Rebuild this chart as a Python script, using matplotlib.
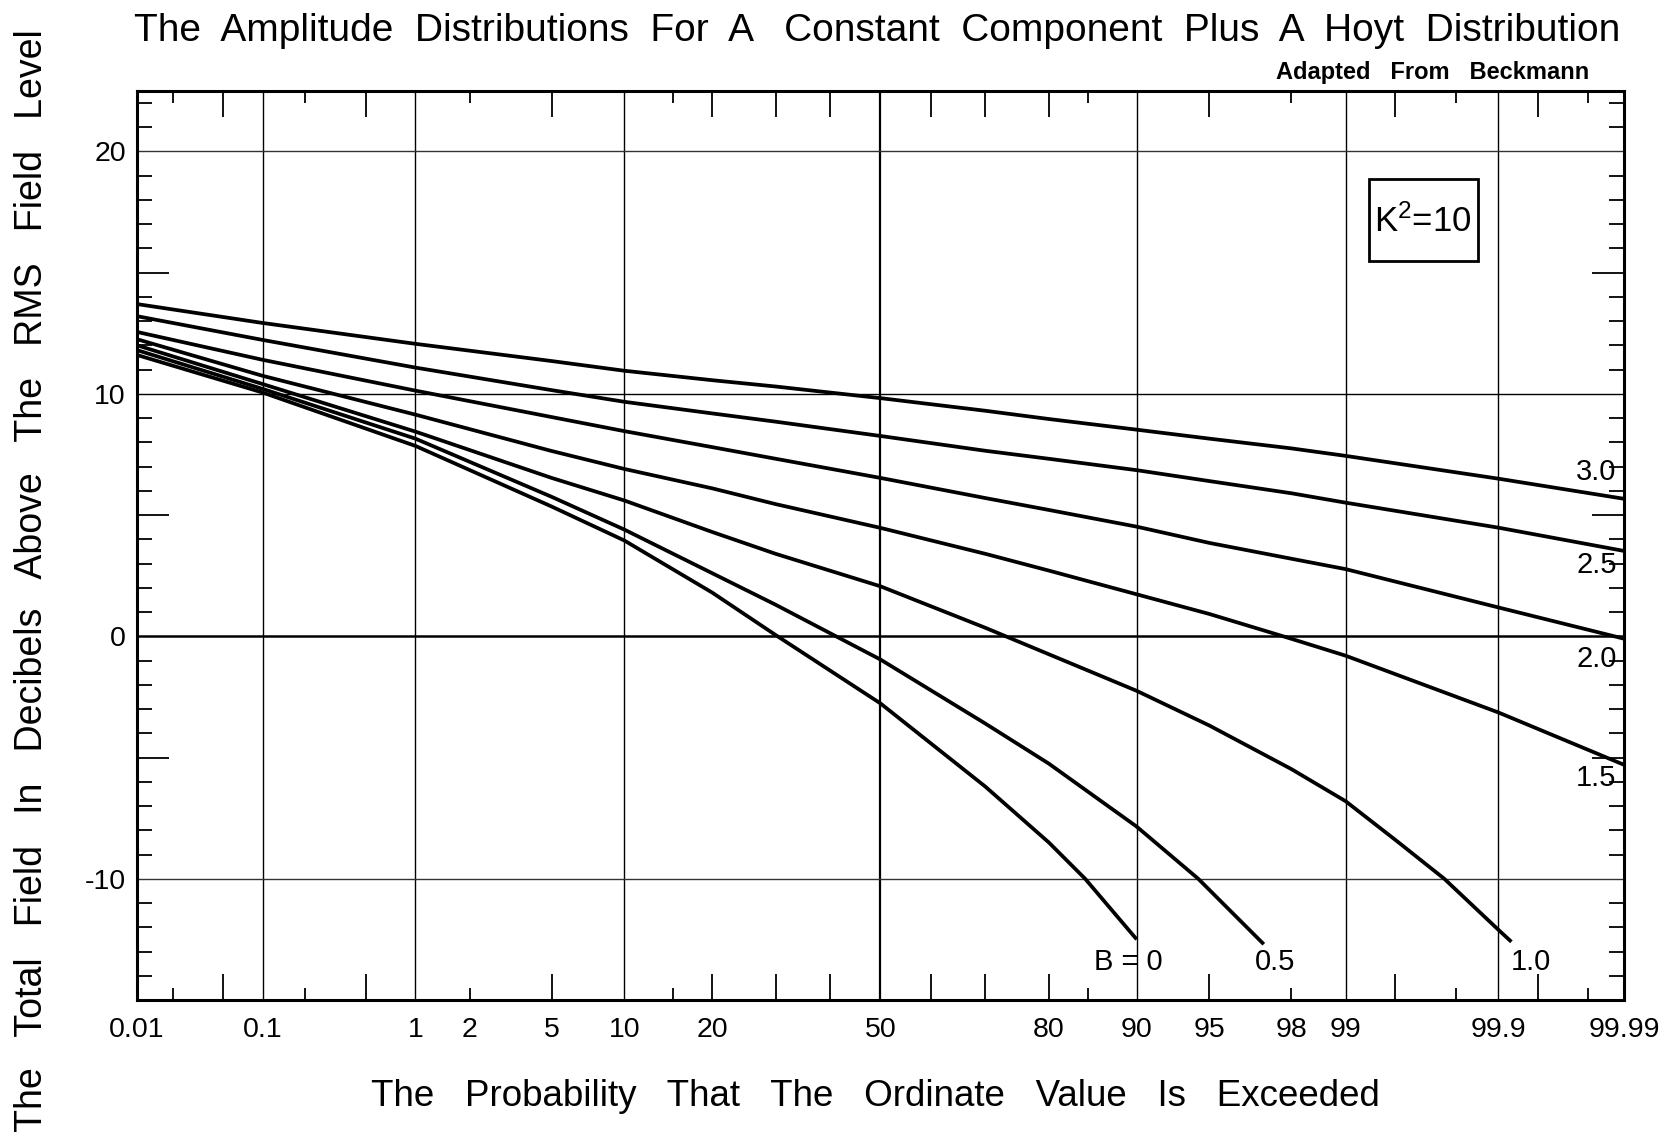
import numpy as np
import matplotlib
matplotlib.use("Agg")
import matplotlib.pyplot as plt
from matplotlib.ticker import FixedLocator, FixedFormatter
from matplotlib.transforms import blended_transform_factory
from matplotlib.patches import Rectangle
from statistics import NormalDist

plt.rcParams['font.family'] = ['Liberation Sans', 'DejaVu Sans']
plt.rcParams['mathtext.fontset'] = 'custom'
plt.rcParams['mathtext.rm'] = 'Liberation Sans'
plt.rcParams['mathtext.it'] = 'Liberation Sans'

# ---------------- data ----------------
curve_names = ["3.0", "2.5", "2.0", "1.5", "1.0", "0.5", "0"]

prob_common = [0.01, 0.1, 1, 5, 10, 20, 30, 50, 70, 80, 90, 95, 98, 99, 99.9, 99.99]
db_b30 = [13.7, 12.92, 12.06, 11.35, 10.95, 10.56, 10.3, 9.82, 9.3, 8.96, 8.52, 8.15, 7.75, 7.44, 6.5, 5.67]
db_b25 = [13.2, 12.22, 11.08, 10.15, 9.67, 9.19, 8.85, 8.26, 7.65, 7.32, 6.85, 6.4, 5.9, 5.51, 4.48, 3.52]
db_b20 = [12.55, 11.4, 10.13, 9.04, 8.46, 7.8, 7.32, 6.53, 5.7, 5.21, 4.52, 3.85, 3.2, 2.77, 1.19, -0.1]
db_b15 = [12.25, 10.74, 9.14, 7.64, 6.9, 6.1, 5.45, 4.47, 3.4, 2.71, 1.73, 0.92, -0.1, -0.8, -3.14, -5.3]

prob_b10 = [0.01, 0.1, 1, 5, 10, 20, 30, 50, 70, 80, 90, 95, 98, 99, 99.5, 99.76, 99.9, 99.92]
db_b10 = [12.0, 10.4, 8.44, 6.53, 5.6, 4.3, 3.4, 2.06, 0.35, -0.74, -2.25, -3.68, -5.47, -6.8, -8.4, -10.0, -12.1, -12.6]

prob_b05 = [0.01, 0.1, 1, 5, 10, 20, 30, 50, 70, 80, 90, 94.4, 97.24]
db_b05 = [11.8, 10.2, 8.15, 5.75, 4.4, 2.6, 1.3, -0.96, -3.6, -5.25, -7.85, -10.0, -12.7]

prob_b00 = [0.01, 0.1, 1, 5, 10, 20, 30, 50, 70, 80, 84.7, 90]
db_b00 = [11.6, 10.05, 7.85, 5.35, 3.95, 1.8, 0.05, -2.77, -6.2, -8.5, -10.0, -12.5]

x_label_ticks = [0.01, 0.1, 1, 2, 5, 10, 20, 50, 80, 90, 95, 98, 99, 99.9, 99.99]
x_tall_ticks = [0.05, 0.5, 5, 20, 30, 40, 60, 70, 80, 95, 99.5, 99.95]
x_short_ticks = [0.02, 0.2, 2, 15, 85, 98, 99.8, 99.98]
x_grid = [0.1, 1, 10, 50, 90, 99, 99.9]
y_grid = [20, 10, 0, -10]
y_label_ticks = [20, 10, 0, -10]

# ---------------- probability scale ----------------
_nd = NormalDist()

def prob_fwd(p):
    p = np.asarray(p, dtype=float)
    q = np.clip(p / 100.0, 1e-12, 1 - 1e-12)
    out = [(_nd.inv_cdf(v) if np.isfinite(v) else np.nan) for v in q.ravel()]
    return np.array(out, dtype=float).reshape(q.shape)

def prob_inv(z):
    z = np.asarray(z, dtype=float)
    out = [(_nd.cdf(v) * 100.0 if np.isfinite(v) else np.nan) for v in z.ravel()]
    return np.array(out, dtype=float).reshape(z.shape)

fig = plt.figure(figsize=(16.73, 11.32), dpi=100)
ax = fig.add_axes([0.0819, 0.1166, 0.8888, 0.8033])
ax.set_xscale('function', functions=(prob_fwd, prob_inv))
ax.set_xlim(0.01, 99.99)
ax.set_ylim(-15, 22.5)

# grid lines
for g in x_grid:
    ax.axvline(g, color='black', lw=1.0 if g != 50 else 1.6, zorder=1)
for g in y_grid:
    ax.axhline(g, color='#333333' if g in (20, -10) else 'black',
               lw=1.0 if g != 0 else 1.8, zorder=1)

# curves
series = [(prob_common, db_b30), (prob_common, db_b25), (prob_common, db_b20),
          (prob_common, db_b15), (prob_b10, db_b10), (prob_b05, db_b05),
          (prob_b00, db_b00)]
for (px, py) in series:
    ax.plot(px, py, color='black', lw=2.7, solid_capstyle='butt',
            solid_joinstyle='round', zorder=3)

# ---------------- ticks ----------------
x_all = sorted(set(x_label_ticks) | set(x_tall_ticks) | set(x_short_ticks))
x_lbls = [(('%g' % v) if v in x_label_ticks else '') for v in x_all]
ax.xaxis.set_major_locator(FixedLocator(x_all))
ax.xaxis.set_major_formatter(FixedFormatter(x_lbls))
ax.xaxis.set_minor_locator(FixedLocator([]))

y_all = list(range(-15, 23))
y_lbls = [(('%d' % v) if v in y_label_ticks else '') for v in y_all]
ax.yaxis.set_major_locator(FixedLocator(y_all))
ax.yaxis.set_major_formatter(FixedFormatter(y_lbls))
ax.yaxis.set_minor_locator(FixedLocator([]))

ax.tick_params(axis='both', which='major', direction='in', top=True, right=True,
               width=1.3, labelsize=20.5, color='black')
ax.tick_params(axis='x', pad=12)
ax.tick_params(axis='y', pad=8)

px2pt = 0.72
fig.canvas.draw()
for t, v in zip(ax.xaxis.get_major_ticks(), x_all):
    if v in x_grid or v in (0.01, 99.99):
        L = 0
    elif v in x_short_ticks:
        L = 12
    else:
        L = 26
    t.tick1line.set_markersize(L * px2pt)
    t.tick2line.set_markersize(L * px2pt)
for t, v in zip(ax.yaxis.get_major_ticks(), y_all):
    if v in y_grid or v in (-15,):
        L = 0
    elif v % 5 == 0:
        L = 32
    else:
        L = 15
    t.tick1line.set_markersize(L * px2pt)
    t.tick2line.set_markersize(L * px2pt)

for s in ax.spines.values():
    s.set_linewidth(2.2)

# ---------------- curve labels ----------------
bt = blended_transform_factory(ax.transAxes, ax.transData)
for name, yv in zip(["3.0", "2.5", "2.0", "1.5"], [6.77, 2.95, -0.92, -5.85]):
    ax.text(0.995, yv, name, transform=bt, ha='right', va='center', fontsize=21)
ax.text(89.2, -13.45, "B = 0", ha='center', va='center', fontsize=21)
ax.text(97.57, -13.45, "0.5", ha='center', va='center', fontsize=21)
ax.text(99.943, -13.45, "1.0", ha='center', va='center', fontsize=21)

# K^2 box
fig.patches.append(Rectangle((0.8183, 0.7694), 0.0652, 0.0724, transform=fig.transFigure,
                             fill=True, fc='white', ec='black', lw=2.0, zorder=5))
fig.text(0.8506, 0.8040, "K$^{2}$=10", ha='center', va='center', fontsize=25, zorder=6)

# titles
fig.text(0.524, 0.9728,
         "The  Amplitude  Distributions  For  A   Constant  Component  Plus  A  Hoyt  Distribution",
         ha='center', va='center', fontsize=28)
fig.text(0.8565, 0.936, "Adapted   From   Beckmann", ha='center', va='center',
         fontsize=17, fontweight='bold')
fig.text(0.0191, 0.4867,
         "The   Total   Field   In   Decibels   Above   The   RMS   Field   Level",
         rotation=90, ha='center', va='center', fontsize=27)
fig.text(0.523, 0.031,
         "The   Probability   That   The   Ordinate   Value   Is   Exceeded",
         ha='center', va='center', fontsize=26.5)

fig.savefig("out.png", dpi=100)
